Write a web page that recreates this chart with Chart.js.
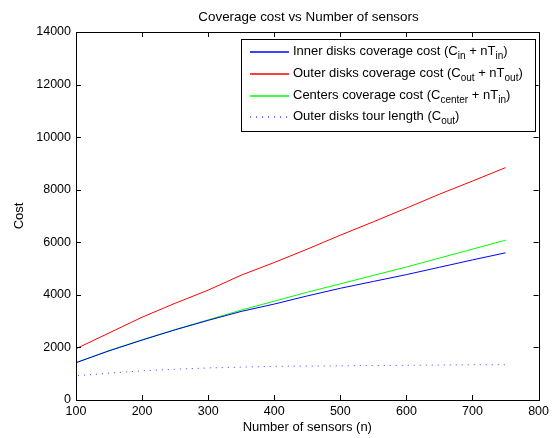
<!DOCTYPE html>
<html>
<head>
<meta charset="utf-8">
<script src="https://cdn.jsdelivr.net/npm/chart.js@4.4.1/dist/chart.umd.min.js"></script>
<style>
  html, body { margin: 0; padding: 0; background: #fff; }
  #wrap { position: relative; width: 553px; height: 438px; font-family: "Liberation Sans", Arial, Helvetica, sans-serif; }
  #title { position: absolute; left: 76px; width: 465px; top: 9px; text-align: center; font-size: 13.4px; line-height: 16px; color: #000; white-space: nowrap; }
  #legend { position: absolute; left: 241px; top: 39px; width: 293px; height: 91px; border: 1px solid #000; background: transparent; font-size: 13px; color: #000; }
  .row { position: absolute; left: 0; height: 16px; width: 100%; }
  .lbl { position: absolute; left: 51px; top: 0; white-space: nowrap; line-height: 16px; }
  .lbl sub { font-size: 10px; vertical-align: -4px; line-height: 0; }
</style>
</head>
<body>
<div id="wrap">
  <canvas id="c" width="553" height="438"></canvas>
  <div id="title">Coverage cost vs Number of sensors</div>
  <div id="legend">
    <div class="row" style="top:3px"><div class="lbl">Inner disks coverage cost (C<sub>in</sub> + nT<sub>in</sub>)</div></div>
    <div class="row" style="top:25px"><div class="lbl">Outer disks coverage cost (C<sub>out</sub> + nT<sub>out</sub>)</div></div>
    <div class="row" style="top:47px"><div class="lbl">Centers coverage cost (C<sub>center</sub> + nT<sub>in</sub>)</div></div>
    <div class="row" style="top:68px"><div class="lbl">Outer disks tour length (C<sub>out</sub>)</div></div>
  </div>
</div>
<script>
// ---- data ----
const nValues    = [100, 150, 200, 250, 300, 350, 400, 450, 500, 550, 600, 650, 700, 750];
const innerCost  = [1420, 1870, 2280, 2670, 3030, 3370, 3650, 3960, 4250, 4510, 4770, 5050, 5330, 5600];
const outerCost  = [1950, 2550, 3150, 3680, 4180, 4750, 5230, 5740, 6270, 6780, 7300, 7830, 8330, 8840];
const centerCost = [1420, 1880, 2290, 2680, 3050, 3420, 3760, 4100, 4420, 4740, 5060, 5400, 5740, 6080];
const tourLength = [920, 1020, 1110, 1170, 1220, 1250, 1280, 1290, 1300, 1310, 1320, 1330, 1340, 1340];
const seriesNames = ['Inner disks coverage cost', 'Outer disks coverage cost', 'Centers coverage cost', 'Outer disks tour length'];
const xTickMin = 100, xTickMax = 800, xTickStep = 100;
const yTickMin = 0, yTickMax = 14000, yTickStep = 2000;

const toXY = arr => arr.map((v, i) => ({ x: nValues[i], y: v }));
const FONT = '"Liberation Sans", Arial, Helvetica, sans-serif';

const boxTicks = {
  id: 'boxTicks',
  afterDatasetsDraw(chart) {
    const { ctx, chartArea: a, scales } = chart;
    ctx.save();
    ctx.strokeStyle = '#000';
    ctx.lineWidth = 1;
    ctx.beginPath();
    const L = 5;
    scales.x.ticks.forEach(t => {
      const px = Math.round(scales.x.getPixelForValue(t.value)) + 0.5;
      ctx.moveTo(px, a.bottom); ctx.lineTo(px, a.bottom - L);
      ctx.moveTo(px, a.top); ctx.lineTo(px, a.top + L);
    });
    scales.y.ticks.forEach(t => {
      const py = Math.round(scales.y.getPixelForValue(t.value)) + 0.5;
      ctx.moveTo(a.left, py); ctx.lineTo(a.left + L, py);
      ctx.moveTo(a.right, py); ctx.lineTo(a.right - L, py);
    });
    ctx.stroke();
    ctx.strokeRect(Math.round(a.left) + 0.5, Math.round(a.top) + 0.5, Math.round(a.right - a.left), Math.round(a.bottom - a.top));

    // legend background + line samples (text is HTML overlay)
    const lg = document.getElementById('legend');
    const lx = lg.offsetLeft, ly = lg.offsetTop, lw = lg.offsetWidth, lh = lg.offsetHeight;
    ctx.fillStyle = '#fff';
    ctx.fillRect(lx, ly, lw, lh);
    const rows = lg.querySelectorAll('.row');
    chart.data.datasets.forEach((ds, i) => {
      const r = rows[i];
      const y = ly + 1 + r.offsetTop + 9;
      ctx.beginPath();
      ctx.strokeStyle = ds.borderColor;
      ctx.lineWidth = 1.5;
      ctx.setLineDash(ds.borderDash || []);
      ctx.moveTo(lx + 9, y);
      ctx.lineTo(lx + 48, y);
      ctx.stroke();
    });
    ctx.setLineDash([]);
    ctx.restore();
  }
};

new Chart(document.getElementById('c'), {
  type: 'line',
  data: {
    datasets: [
      { label: seriesNames[0], data: toXY(innerCost), borderColor: '#0000ff', borderWidth: 1, pointRadius: 0, tension: 0 },
      { label: seriesNames[1], data: toXY(outerCost), borderColor: '#ff0000', borderWidth: 1, pointRadius: 0, tension: 0 },
      { label: seriesNames[2], data: toXY(centerCost), borderColor: '#00ff00', borderWidth: 1, pointRadius: 0, tension: 0 },
      { label: seriesNames[3], data: toXY(tourLength), borderColor: 'rgba(0,0,255,0.75)', borderWidth: 1, borderDash: [1, 5], borderDashOffset: -2, pointRadius: 0, tension: 0 }
    ]
  },
  options: {
    responsive: false,
    animation: false,
    layout: { padding: { left: 0, right: 12, top: 32, bottom: 0 } },
    plugins: {
      legend: { display: false },
      tooltip: { enabled: false },
      title: { display: false }
    },
    scales: {
      x: {
        type: 'linear', min: xTickMin, max: xTickMax,
        ticks: { stepSize: xTickStep, color: '#000', padding: 4, maxRotation: 0, font: { family: FONT, size: 12.5 }, callback: v => String(v) },
        grid: { display: false, drawTicks: false },
        border: { display: false },
        title: { display: true, text: 'Number of sensors (n)', color: '#000', font: { family: FONT, size: 13 }, padding: { top: 0, bottom: 3.2 } },
        afterFit(s) { s.height = 38; }
      },
      y: {
        min: yTickMin, max: yTickMax,
        ticks: { stepSize: yTickStep, color: '#000', padding: 5, font: { family: FONT, size: 12.5 }, callback: v => String(v) },
        grid: { display: false, drawTicks: false },
        border: { display: false },
        title: { display: true, text: 'Cost', color: '#000', font: { family: FONT, size: 13 }, padding: { top: 12, bottom: 0 } },
        afterFit(s) { s.width = 76; }
      }
    }
  },
  plugins: [boxTicks]
});
</script>
</body>
</html>
